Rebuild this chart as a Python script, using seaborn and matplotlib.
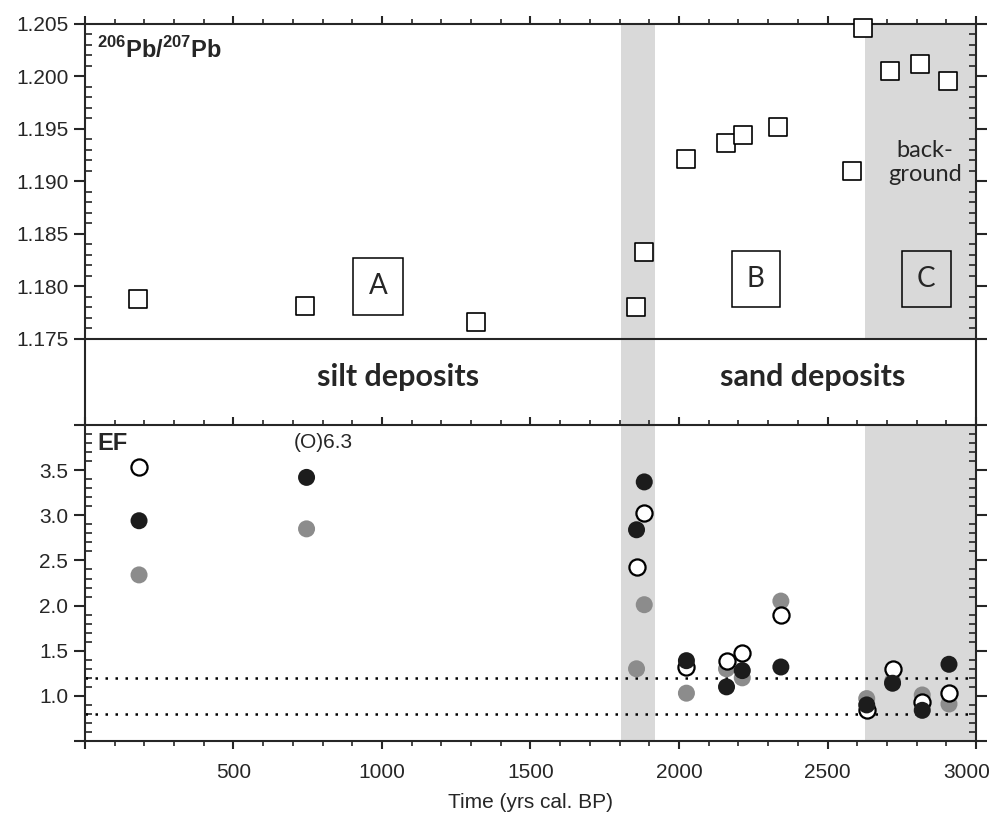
import pandas as pd
import seaborn as sns
import matplotlib.pyplot as plt
from matplotlib.ticker import MultipleLocator, FuncFormatter
from matplotlib.transforms import ScaledTranslation

# upper panel: 206Pb/207Pb ratio vs age
pb_time = [178, 741, 1316, 1855, 1882, 2024, 2158, 2215, 2333, 2583, 2620, 2710, 2811, 2906]
pb_ratio = [1.1788, 1.1781, 1.1766, 1.1780, 1.1833, 1.1921, 1.1937, 1.1944,
            1.1952, 1.1910, 1.2046, 1.2005, 1.2012, 1.1996]

# lower panel: enrichment factors, three elements
ef_time = [182, 746, 1857, 1883, 2025, 2160, 2213, 2343, 2632, 2719, 2819, 2909]
ef_black = [2.94, 3.42, 2.84, 3.37, 1.39, 1.10, 1.28, 1.32, 0.90, 1.14, 0.84, 1.35]
ef_gray = [2.34, 2.85, 1.30, 2.01, 1.03, 1.30, 1.20, 2.05, 0.97, 1.16, 1.01, 0.91]
ef_open = [3.53, 6.3, 2.43, 3.03, 1.32, 1.39, 1.47, 1.90, 0.84, 1.30, 0.93, 1.03]
ef_limits = [1.2, 0.8]

# zones
zone_labels = ['A', 'B', 'C']
zone_time = [987, 2259, 2832]
zone_ratio = [1.1800, 1.1807, 1.1807]
transition_band = (1805, 1920)
background_band = (2625, 3000)

pb = pd.DataFrame({'time': pb_time, 'ratio': pb_ratio})
ef = pd.DataFrame({'time': ef_time, 'black': ef_black, 'gray': ef_gray, 'open': ef_open})

sns.set_style('ticks')
plt.rcParams['font.family'] = ['Liberation Sans', 'DejaVu Sans']
plt.rcParams['axes.linewidth'] = 1.5
plt.rcParams['mathtext.fontset'] = 'custom'
plt.rcParams['mathtext.rm'] = 'Liberation Sans'
plt.rcParams['mathtext.bf'] = 'Liberation Sans:bold'

band_color = '#d9d9d9'

fig = plt.figure(figsize=(9.94, 8.18), dpi=100)
ax_mid = fig.add_axes([0.0855, 0.4804, 0.8964, 0.1052])
ax_top = fig.add_axes([0.0855, 0.5856, 0.8964, 0.3851])
ax_bot = fig.add_axes([0.0855, 0.0941, 0.8964, 0.3863])
ax_mid.set_zorder(1)
ax_top.set_zorder(2)
ax_bot.set_zorder(2)

for ax in (ax_top, ax_mid, ax_bot):
    ax.set_xlim(0, 3000)
    ax.axvspan(*transition_band, color=band_color, lw=0, zorder=0)
for ax in (ax_top, ax_bot):
    ax.axvspan(*background_band, color=band_color, lw=0, zorder=0)

# --- top panel
sns.scatterplot(data=pb, x='time', y='ratio', marker='s', s=150, color='white',
                edgecolor='black', linewidth=1.2, ax=ax_top, clip_on=False, zorder=3)
ax_top.set_ylim(1.175, 1.205)
ax_top.yaxis.set_major_locator(MultipleLocator(0.005))
ax_top.yaxis.set_minor_locator(MultipleLocator(0.001))
ax_top.yaxis.set_major_formatter(FuncFormatter(lambda v, p: f'{v:.3f}'))
for lab, t, r in zip(zone_labels, zone_time, zone_ratio):
    ax_top.text(t, r, lab, ha='center', va='center', fontsize=20, family='Lato',
                bbox=dict(boxstyle='square,pad=0.55', fc='none', ec='black', lw=1.1))
ax_top.text(2828, 1.1918, 'back-\nground', ha='center', va='center', fontsize=17,
            family='Lato', linespacing=1.2)
ax_top.text(0.0135, 0.917, r'$^{\mathbf{206}}\mathbf{Pb/}^{\mathbf{207}}\mathbf{Pb}$',
            transform=ax_top.transAxes, fontsize=17, va='center')

# --- middle band
ax_mid.set_ylim(0, 1)
ax_mid.set_xticks([])
ax_mid.set_yticks([])
ax_mid.spines['top'].set_visible(False)
ax_mid.spines['bottom'].set_visible(False)
ax_mid.text(1054, 0.56, 'silt deposits', ha='center', va='center', fontsize=22,
            fontweight='bold', family='Lato')
ax_mid.text(2451, 0.56, 'sand deposits', ha='center', va='center', fontsize=22,
            fontweight='bold', family='Lato')

# --- bottom panel
for v in ef_limits:
    ax_bot.axhline(v, color='black', lw=1.8, ls=(0, (1, 3)), zorder=1)
sns.scatterplot(data=ef, x='time', y='gray', s=150, color='#8c8c8c', edgecolor='none',
                ax=ax_bot, zorder=3)
sns.scatterplot(data=ef, x='time', y='open', s=135, color='white', edgecolor='black',
                linewidth=1.6, ax=ax_bot, zorder=4)
sns.scatterplot(data=ef, x='time', y='black', s=150, color='#1c1c1c', edgecolor='none',
                ax=ax_bot, zorder=5)
ax_bot.set_ylim(0.5, 4.0)
ax_bot.yaxis.set_major_locator(MultipleLocator(0.5))
ax_bot.yaxis.set_minor_locator(MultipleLocator(0.1))
ax_bot.yaxis.set_major_formatter(
    FuncFormatter(lambda v, p: '' if v < 0.9 or v > 3.6 else f'{v:.1f}'))
ax_bot.text(801, 3.81, '(O)6.3', ha='center', va='center', fontsize=15)
ax_bot.text(0.0135, 0.94, 'EF', transform=ax_bot.transAxes, fontsize=17,
            fontweight='bold', va='center')
ax_bot.set_xlabel('Time (yrs cal. BP)', fontsize=15, labelpad=8)
ax_bot.set_ylabel('')

for ax in (ax_top, ax_bot):
    ax.set_ylabel('')
    ax.xaxis.set_major_locator(MultipleLocator(500))
    ax.xaxis.set_minor_locator(MultipleLocator(100))
    ax.tick_params(axis='y', which='major', direction='out', length=8, width=1.5,
                   left=True, right=True, labelsize=15, pad=4)
    ax.tick_params(axis='y', which='minor', direction='in', length=5, width=1.2,
                   left=True, right=True)
    ax.tick_params(axis='x', which='major', direction='out', length=6, width=1.5, top=True)
    ax.tick_params(axis='x', which='minor', direction='out', length=3.5, width=1.2, top=True)

ax_top.set_xlabel('')
ax_top.tick_params(axis='x', which='both', bottom=False, labelbottom=False)
ax_bot.xaxis.set_major_formatter(FuncFormatter(lambda v, p: '' if v == 0 else f'{v:.0f}'))
ax_bot.tick_params(axis='x', labelsize=15, pad=10)

# keep the 3000 label inside the figure
fig.canvas.draw()
for tick in ax_bot.xaxis.get_major_ticks():
    if abs(tick.get_loc() - 3000) < 1:
        lbl = tick.label1
        lbl.set_transform(lbl.get_transform() + ScaledTranslation(-0.09, 0, fig.dpi_scale_trans))

fig.savefig('out.png', dpi=100)
